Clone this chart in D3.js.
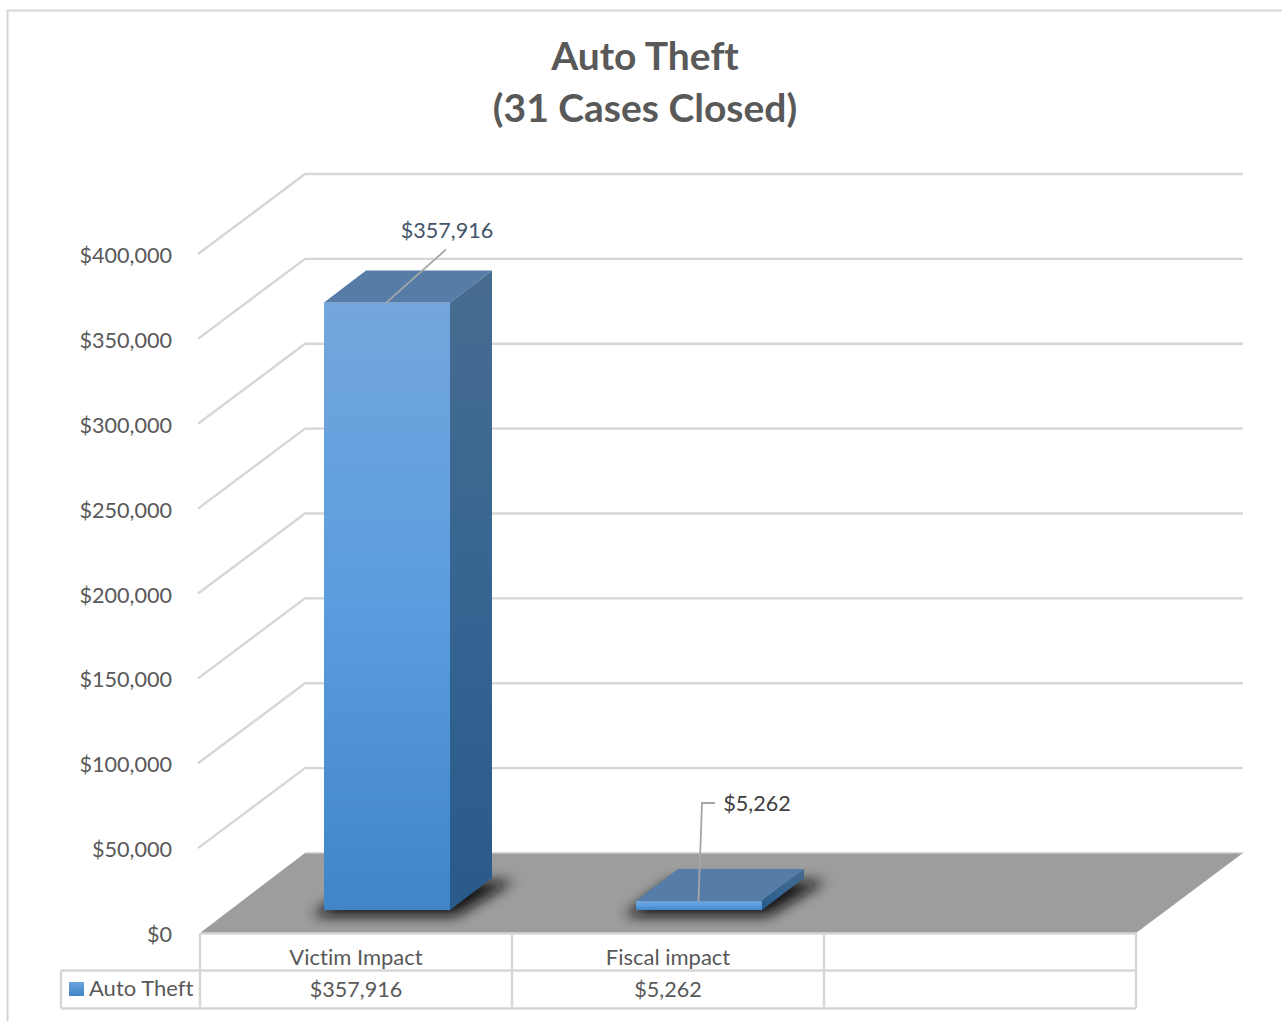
<!DOCTYPE html>
<html><head><meta charset="utf-8">
<style>html,body{margin:0;padding:0;background:#fff;overflow:hidden}svg{display:block}text{font-family:Lato,"Open Sans",sans-serif;font-variant-ligatures:none;font-kerning:normal}</style>
<script src="https://cdn.jsdelivr.net/npm/d3@7/dist/d3.min.js"></script></head><body><script>
const categories=["Victim Impact","Fiscal impact",""];
const seriesName="Auto Theft";
const values=[357916,5262,null];
const tableValues=["$357,916","$5,262",""];
const yTicks=[0,50000,100000,150000,200000,250000,300000,350000,400000];
const titleLines=["Auto Theft","(31 Cases Closed)"];

const W=1282,H=1021;
const svg=d3.select("body").append("svg").attr("width",W).attr("height",H);
const defs=svg.append("defs");
const y=d3.scaleLinear().domain([0,400000]).range([933,254]);
const x=d3.scaleBand().domain(d3.range(categories.length)).range([200,1136]);
const fmt=d3.format("$,.0f");
const wallDx=105,wallDy=-80, grid="#d6d6d6";
const barW=126, barDx=42, barDy=-32, inDx=31, inDy=-23;
const numSize=21.6, txtSize=22;

const fg=defs.append("linearGradient").attr("id","front").attr("x1",0).attr("x2",0).attr("y1",0).attr("y2",1);
[[0,"#73a6dd"],[.5,"#5a9dde"],[1,"#4085c7"]].forEach(d=>fg.append("stop").attr("offset",d[0]).attr("stop-color",d[1]));
const sg=defs.append("linearGradient").attr("id","side").attr("x1",0).attr("x2",0).attr("y1",0).attr("y2",1);
[[0,"#486c90"],[.5,"#366592"],[1,"#295a8a"]].forEach(d=>sg.append("stop").attr("offset",d[0]).attr("stop-color",d[1]));
const lg=defs.append("linearGradient").attr("id","leg").attr("x1",0).attr("x2",0).attr("y1",0).attr("y2",1);
[[0,"#6ba3dd"],[1,"#4085c7"]].forEach(d=>lg.append("stop").attr("offset",d[0]).attr("stop-color",d[1]));
defs.append("filter").attr("id","blur").attr("filterUnits","userSpaceOnUse").attr("x",0).attr("y",0).attr("width",W).attr("height",H)
  .append("feGaussianBlur").attr("stdDeviation",6.5);

// frame
svg.append("path").attr("d",`M7.5,${H}V10.5H${W}`).attr("fill","none").attr("stroke",grid).attr("stroke-width",2);

// floor
const y0=y(0);
svg.append("path").attr("d",`M${x.range()[0]},${y0}L${x.range()[0]+wallDx},${y0+wallDy}H${x.range()[1]+107}L${x.range()[1]},${y0}Z`).attr("fill","#9d9d9d");

// gridlines
svg.append("g").selectAll("path").data(yTicks.slice(1)).join("path")
  .attr("d",d=>`M${x.range()[0]-2},${y(d)}L${x.range()[0]+wallDx},${y(d)+wallDy}H1243`)
  .attr("fill","none").attr("stroke",grid).attr("stroke-width",2.4);
svg.append("path").attr("d",`M${x.range()[0]+wallDx},${y0+wallDy}H1243`).attr("stroke","#c9c9c9").attr("stroke-width",1.5);

// tick labels
svg.append("g").selectAll("text").data(yTicks).join("text")
  .attr("x",172).attr("y",d=>y(d)+9).attr("text-anchor","end").attr("font-size",numSize).attr("fill","#595959").text(fmt);

// bars
const bars=values.map((v,i)=>({v,i})).filter(d=>d.v!=null);
const gb=svg.append("g");
bars.forEach(d=>{
  const l=x(d.i)+(x.bandwidth()-barW)/2+inDx, r=l+barW;
  const b=y(0)+inDy, t=b-(y(0)-y(d.v));
  // cast shadow of the bar's footprint on the floor
  gb.append("path").attr("d",`M${l-12},${b+6}H${r+6}L${r+barDx+22},${b+barDy+3}H${l+barDx-8}Z`)
    .attr("fill","#111").attr("opacity",.95).attr("filter","url(#blur)");
  gb.append("rect").attr("x",l).attr("y",t).attr("width",barW).attr("height",b-t).attr("fill","url(#front)");
  gb.append("path").attr("d",`M${l},${t}L${l+barDx},${t+barDy}H${r+barDx}L${r},${t}Z`).attr("fill","#567da8");
  gb.append("path").attr("d",`M${r},${t}L${r+barDx},${t+barDy}V${b+barDy}L${r},${b}Z`).attr("fill","url(#side)");
});

// leader lines and data labels
const l0=x(0)+(x.bandwidth()-barW)/2+inDx, l1=x(1)+(x.bandwidth()-barW)/2+inDx;
const b0=y(0)+inDy;
svg.append("path").attr("d",`M${l0+62},${b0-(y(0)-y(values[0]))+.5}L${l0+122},${b0-(y(0)-y(values[0]))-53}`)
  .attr("fill","none").attr("stroke","#a6a6a6").attr("stroke-width",1.8);
svg.append("path").attr("d",`M${l1+62.5},${b0-(y(0)-y(values[1]))}L${l1+66},803H${l1+79}`)
  .attr("fill","none").attr("stroke","#a6a6a6").attr("stroke-width",1.8);
svg.append("text").attr("x",447).attr("y",238).attr("text-anchor","middle").attr("font-size",numSize).attr("fill","#44546a").text(fmt(values[0]));
svg.append("text").attr("x",757).attr("y",811).attr("text-anchor","middle").attr("font-size",numSize).attr("fill","#404040").text(fmt(values[1]));

// data table
const tb=svg.append("g").attr("stroke",grid).attr("stroke-width",2.4).attr("fill","none");
tb.append("path").attr("d",`M200,933.5H1136`);
tb.append("path").attr("d",`M61,970.5H1136M61,1008.5H1136M61,970.5V1008.5`);
tb.selectAll(".v").data(d3.range(categories.length+1)).join("path").attr("class","v")
  .attr("d",i=>{const p=i<categories.length?x(i):x.range()[1];return `M${p},933V1008.5`;});
svg.append("g").selectAll("text").data(categories).join("text")
  .attr("x",(d,i)=>x(i)+x.bandwidth()/2).attr("y",965).attr("text-anchor","middle").attr("font-size",txtSize).attr("fill","#595959").text(d=>d);
svg.append("g").selectAll("text").data(tableValues).join("text")
  .attr("x",(d,i)=>x(i)+x.bandwidth()/2).attr("y",997).attr("text-anchor","middle").attr("font-size",numSize).attr("fill","#595959").text(d=>d);
svg.append("rect").attr("x",69).attr("y",982).attr("width",15).attr("height",14).attr("fill","url(#leg)");
svg.append("text").attr("x",89).attr("y",996).attr("font-size",txtSize).attr("fill","#595959").text(seriesName);

// title
svg.append("g").selectAll("text").data(titleLines).join("text")
  .attr("x",645).attr("y",(d,i)=>70+i*52).attr("text-anchor","middle")
  .attr("font-size",39).attr("font-weight",700).attr("fill","#595959").text(d=>d);
</script></body></html>
